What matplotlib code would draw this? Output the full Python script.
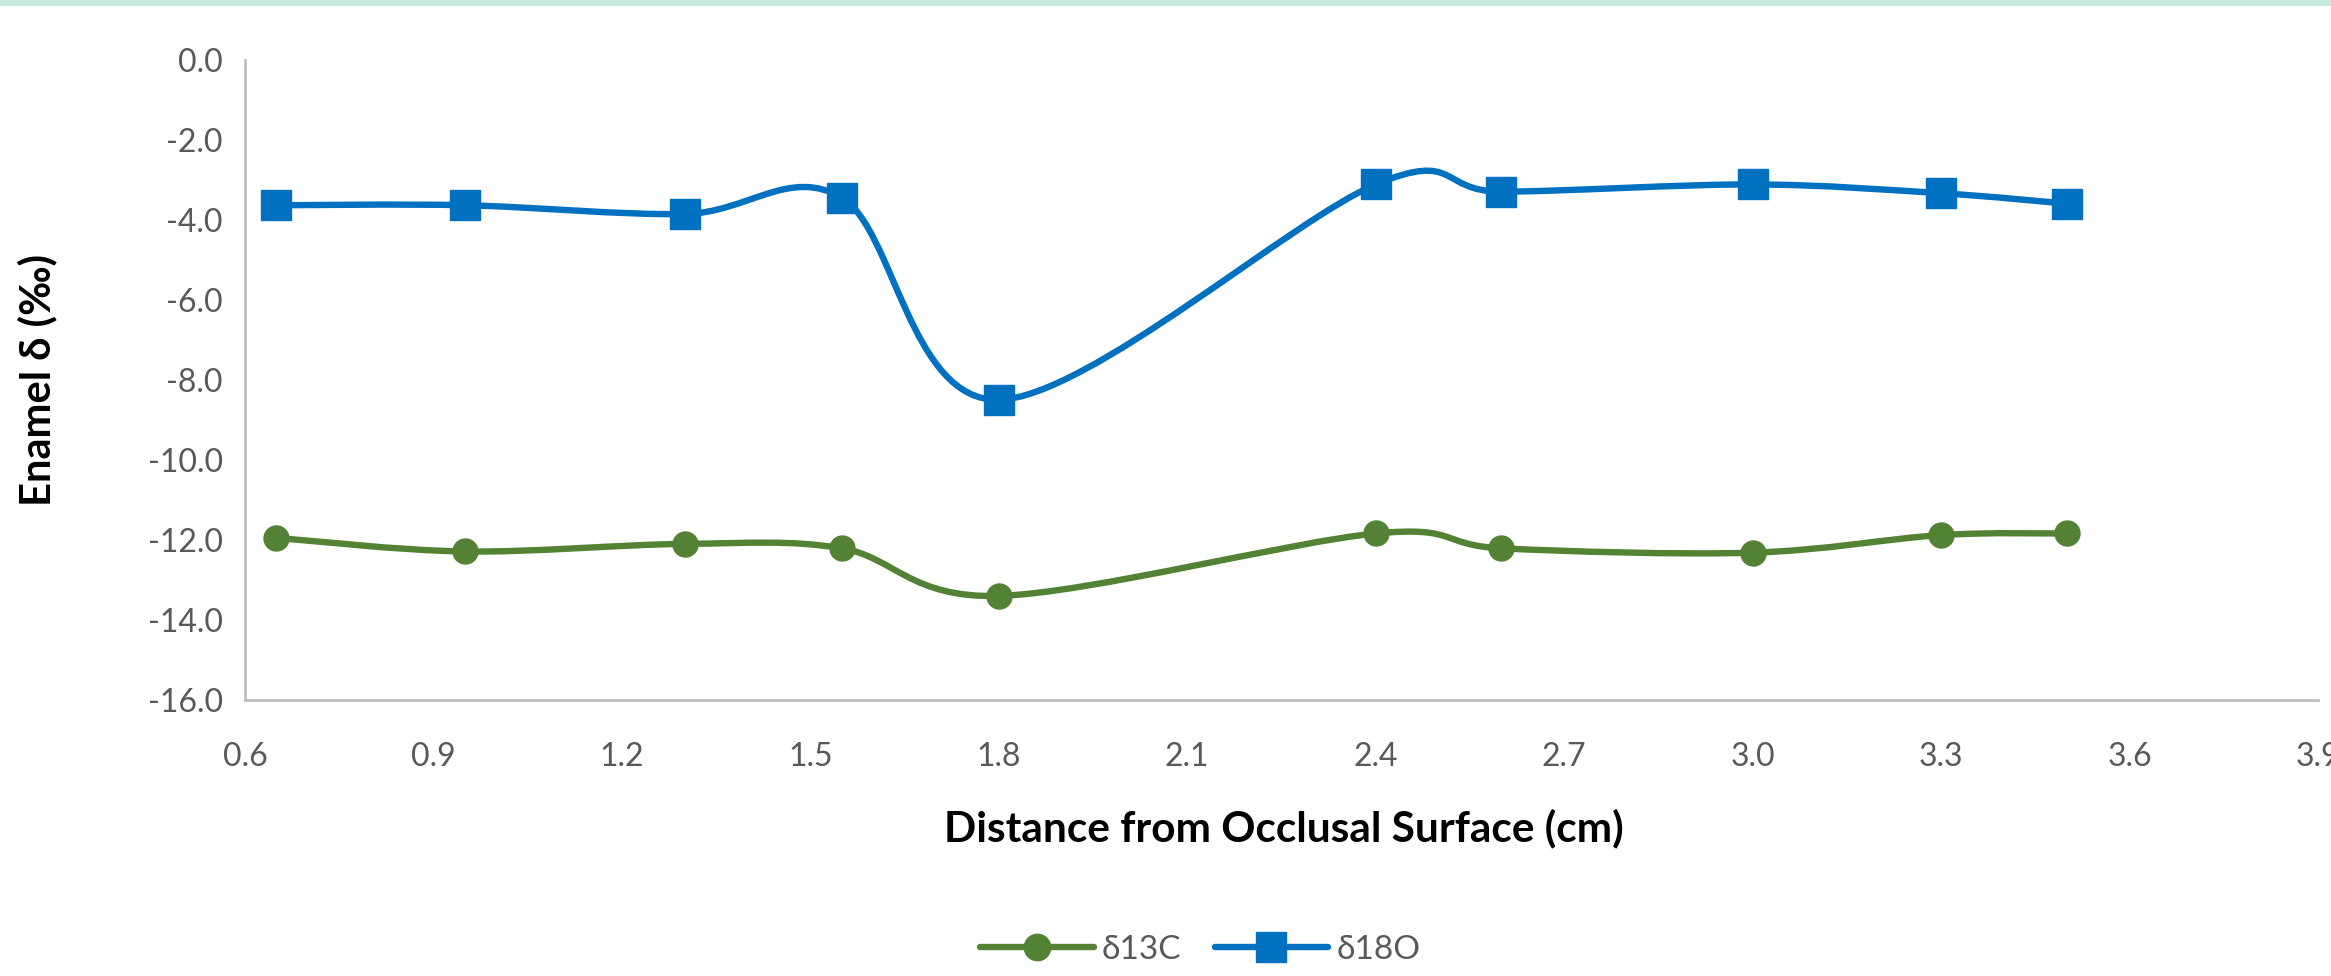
import numpy as np
import matplotlib
matplotlib.use('Agg')
import matplotlib.pyplot as plt
from matplotlib.path import Path
from matplotlib.patches import PathPatch, Rectangle
from matplotlib.lines import Line2D

plt.rcParams['font.family'] = ['Lato', 'DejaVu Sans']

# distance from occlusal surface (cm)
distance = [0.65, 0.95, 1.3, 1.55, 1.8, 2.4, 2.6, 3.0, 3.3, 3.5]
d13c = [-11.95, -12.29, -12.10, -12.21, -13.40, -11.84, -12.21, -12.32, -11.88, -11.84]
d18o = [-3.64, -3.64, -3.86, -3.45, -8.50, -3.12, -3.30, -3.12, -3.34, -3.60]

xticks = [0.6, 0.9, 1.2, 1.5, 1.8, 2.1, 2.4, 2.7, 3.0, 3.3, 3.6, 3.9]
yticks = [0, -2, -4, -6, -8, -10, -12, -14, -16]

GREEN = '#548235'
BLUE = '#0070C0'
TICK_COL = '#595959'


def smooth_path(x, y):
    # Excel-like smoothed line: cubic Bezier through points (Catmull-Rom tangents)
    x = np.asarray(x, float)
    y = np.asarray(y, float)
    n = len(x)
    verts = [(x[0], y[0])]
    codes = [Path.MOVETO]
    for i in range(n - 1):
        p0 = (x[max(i - 1, 0)], y[max(i - 1, 0)])
        p1 = (x[i], y[i])
        p2 = (x[i + 1], y[i + 1])
        p3 = (x[min(i + 2, n - 1)], y[min(i + 2, n - 1)])
        c1 = (p1[0] + (p2[0] - p0[0]) / 6, p1[1] + (p2[1] - p0[1]) / 6)
        c2 = (p2[0] - (p3[0] - p1[0]) / 6, p2[1] - (p3[1] - p1[1]) / 6)
        verts += [c1, c2, p2]
        codes += [Path.CURVE4] * 3
    return Path(verts, codes)


fig = plt.figure(figsize=(23.31, 9.76), dpi=100)
fig.patches.append(Rectangle((0, 0.994), 1, 0.006, transform=fig.transFigure,
                             facecolor='#C5EADB', edgecolor='none'))
ax = fig.add_axes([0.1051, 0.2828, 0.8893, 0.6562])

for ys, col, mk, ms in [(d13c, GREEN, 'o', 18), (d18o, BLUE, 's', 21)]:
    ax.add_patch(PathPatch(smooth_path(distance, ys), facecolor='none',
                           edgecolor=col, lw=4.6, capstyle='round', zorder=2))
    ax.plot(distance, ys, linestyle='none', marker=mk, markersize=ms,
            color=col, zorder=3)

ax.set_xlim(0.6, 3.9)
ax.set_ylim(-16, 0)
ax.set_xticks(xticks)
ax.set_xticklabels([f'{v:.1f}' for v in xticks])
ax.set_yticks(yticks)
ax.set_yticklabels([f'{v:.1f}' for v in yticks])
ax.tick_params(length=0, labelsize=23, labelcolor=TICK_COL)
ax.tick_params(axis='x', pad=30)
ax.tick_params(axis='y', pad=16)
for s in ['top', 'right']:
    ax.spines[s].set_visible(False)
for s in ['left', 'bottom']:
    ax.spines[s].set_color('#BFBFBF')
    ax.spines[s].set_linewidth(2)

ax.set_xlabel('Distance from Occlusal Surface (cm)', fontsize=30.5, fontweight='bold')
ax.set_ylabel('Enamel δ (‰)', fontsize=30, fontweight='bold')
ax.xaxis.set_label_coords(0.501, -0.200)
ax.xaxis.label.set_va('center')
ax.yaxis.set_label_coords(-0.1003, 0.5)
ax.yaxis.label.set_va('center')

handles = [Line2D([], [], color=GREEN, lw=4.6, marker='o', markersize=19,
                  solid_capstyle='round'),
           Line2D([], [], color=BLUE, lw=4.6, marker='s', markersize=21,
                  solid_capstyle='round')]
leg = fig.legend(handles, ['δ13C', 'δ18O'], loc='center', bbox_to_anchor=(0.515, 0.027),
                 ncol=2, frameon=False, fontsize=24, handlelength=3.4,
                 columnspacing=1.0, handletextpad=0.25)
for t in leg.get_texts():
    t.set_color(TICK_COL)

fig.savefig('out.png', dpi=100)
